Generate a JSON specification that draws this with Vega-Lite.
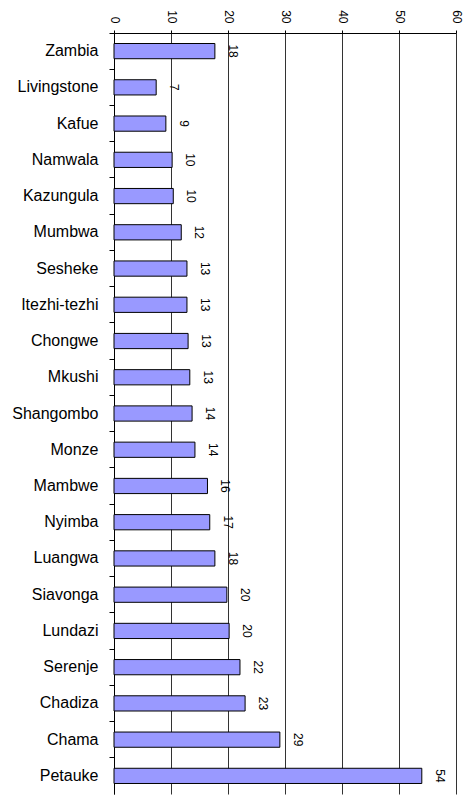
{
  "$schema": "https://vega.github.io/schema/vega-lite/v6.json",
  "width": 342,
  "height": 761,
  "autosize": "none",
  "padding": {"left": 114, "top": 33, "right": 17, "bottom": 1},
  "background": "white",
  "config": {
    "view": {"stroke": null},
    "axis": {"labelFont": "Liberation Sans Narrow, Liberation Sans", "labelColor": "black", "domainColor": "black", "tickColor": "black"}
  },
  "data": {
    "values": [
      {"district": "Zambia", "value": 17.7},
      {"district": "Livingstone", "value": 7.4},
      {"district": "Kafue", "value": 9.1},
      {"district": "Namwala", "value": 10.2},
      {"district": "Kazungula", "value": 10.4},
      {"district": "Mumbwa", "value": 11.8},
      {"district": "Sesheke", "value": 12.8},
      {"district": "Itezhi-tezhi", "value": 12.8},
      {"district": "Chongwe", "value": 13.0},
      {"district": "Mkushi", "value": 13.3},
      {"district": "Shangombo", "value": 13.7},
      {"district": "Monze", "value": 14.2},
      {"district": "Mambwe", "value": 16.4},
      {"district": "Nyimba", "value": 16.8},
      {"district": "Luangwa", "value": 17.7},
      {"district": "Siavonga", "value": 19.8},
      {"district": "Lundazi", "value": 20.2},
      {"district": "Serenje", "value": 22.1},
      {"district": "Chadiza", "value": 23.0},
      {"district": "Chama", "value": 29.1},
      {"district": "Petauke", "value": 54.0}
    ]
  },
  "encoding": {
    "y": {
      "field": "district",
      "type": "nominal",
      "sort": null,
      "scale": {"paddingInner": 0, "paddingOuter": 0},
      "axis": {
        "orient": "left",
        "title": null,
        "bandPosition": 0,
        "tickSize": 5,
        "labelPadding": 11,
        "labelFontSize": 16,
        "grid": false
      }
    }
  },
  "layer": [
    {
      "mark": {"type": "bar", "height": {"band": 0.42}, "fill": "#9999FF", "stroke": "black", "strokeWidth": 1},
      "encoding": {
        "x": {
          "field": "value",
          "type": "quantitative",
          "scale": {"domain": [0, 60], "nice": false},
          "axis": {
            "orient": "top",
            "title": null,
            "values": [0, 10, 20, 30, 40, 50, 60],
            "grid": true,
            "gridColor": "black",
            "gridOpacity": 0.8,
            "tickSize": 3,
            "labelAngle": 90,
            "labelAlign": "right",
            "labelBaseline": "middle",
            "labelPadding": 7,
            "labelFontSize": 12
          }
        }
      }
    },
    {
      "mark": {"type": "text", "angle": 90, "dy": -18, "align": "center", "baseline": "middle", "fontSize": 12, "font": "Liberation Sans Narrow, Liberation Sans", "color": "black"},
      "encoding": {
        "x": {"field": "value", "type": "quantitative"},
        "text": {"field": "value", "type": "quantitative", "format": ".0f"}
      }
    }
  ]
}
